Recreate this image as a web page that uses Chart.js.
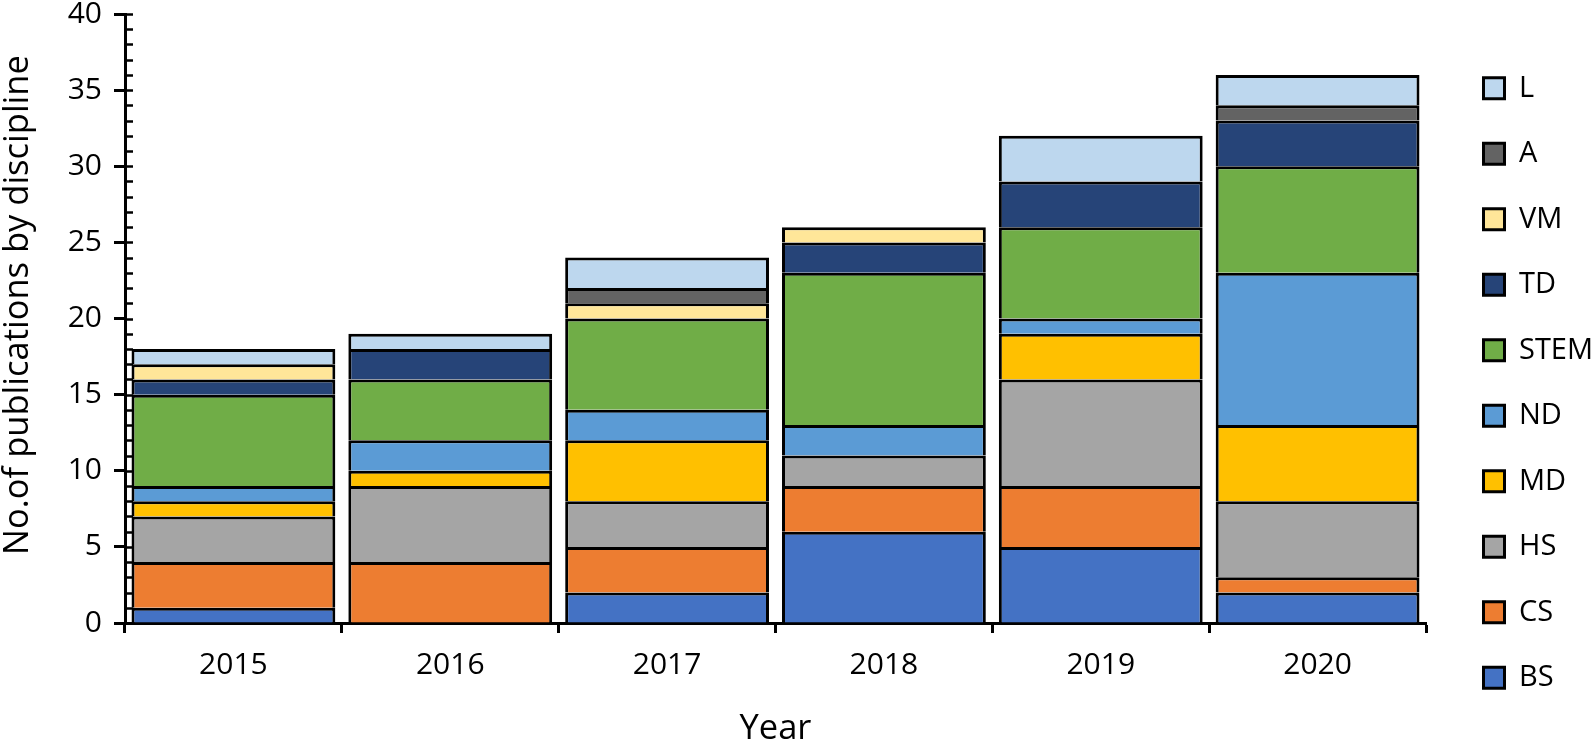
<!DOCTYPE html>
<html>
<head>
<meta charset="utf-8">
<script src="https://cdn.jsdelivr.net/npm/chart.js@4.4.1/dist/chart.umd.min.js"></script>
<style>
html,body{margin:0;padding:0;background:#fff;}
#wrap{width:1592px;height:752px;position:relative;}
</style>
</head>
<body>
<div id="wrap"><canvas id="c" width="1592" height="752"></canvas></div>
<script>
const years = ['2015', '2016', '2017', '2018', '2019', '2020'];
const BS   = [1, 0, 2, 6, 5, 2];
const CS   = [3, 4, 3, 3, 4, 1];
const HS   = [3, 5, 3, 2, 7, 5];
const MD   = [1, 1, 4, 0, 3, 5];
const ND   = [1, 2, 2, 2, 1, 10];
const STEM = [6, 4, 6, 10, 6, 7];
const TD   = [1, 2, 0, 2, 3, 3];
const VM   = [1, 0, 1, 1, 0, 0];
const A    = [0, 0, 1, 0, 0, 1];
const L    = [1, 1, 2, 0, 3, 2];

const seriesNames  = ['BS', 'CS', 'HS', 'MD', 'ND', 'STEM', 'TD', 'VM', 'A', 'L'];
const seriesValues = [BS, CS, HS, MD, ND, STEM, TD, VM, A, L];
const seriesColors = ['#4472C4', '#ED7D31', '#A5A5A5', '#FFC000', '#5B9BD5',
                      '#70AD47', '#264478', '#FFE699', '#636363', '#BDD7EE'];

const yTitle = 'No.of publications by discipline';
const xTitle = 'Year';
const FONT = "'Open Sans', 'Noto Sans', sans-serif";

const minorTicks = {
  id: 'minorTicks',
  afterDraw(chart) {
    const y = chart.scales.y;
    const ctx = chart.ctx;
    const x0 = chart.chartArea.left;
    ctx.save();
    ctx.strokeStyle = '#000';
    ctx.lineWidth = 2.5;
    for (let v = y.min; v <= y.max; v += 1) {
      const py = Math.round(y.getPixelForValue(v)) + 0.5;
      ctx.beginPath();
      ctx.moveTo(x0, py);
      ctx.lineTo(x0 + 8, py);
      ctx.stroke();
    }
    ctx.restore();
  }
};

const datasets = seriesNames.map((name, i) => ({
  label: name,
  data: seriesValues[i],
  backgroundColor: seriesColors[i],
  borderColor: '#000',
  borderWidth: 3,
  borderSkipped: 'start',
  categoryPercentage: 1.0,
  barPercentage: 0.94
}));

new Chart(document.getElementById('c'), {
  type: 'bar',
  data: { labels: years, datasets },
  options: {
    responsive: false,
    animation: false,
    devicePixelRatio: 1,
    layout: { padding: { top: 14, left: 0, right: 0, bottom: 0 } },
    plugins: {
      tooltip: { enabled: false },
      legend: {
        position: 'right',
        reverse: true,
        align: 'center',
        maxWidth: 145,
        labels: {
          boxWidth: 21,
          boxHeight: 21,
          padding: 36.5,
          color: '#000',
          font: { family: FONT, size: 29 }
        }
      }
    },
    scales: {
      x: {
        stacked: true,
        z: 1,
        offset: true,
        grid: { offset: true, drawOnChartArea: false, drawTicks: true, tickLength: 10, tickWidth: 3, tickColor: '#000' },
        border: { display: true, color: '#000', width: 3 },
        ticks: { color: '#000', font: { family: FONT, size: 30 }, padding: 14, maxRotation: 0, autoSkip: false },
        title: { display: true, text: xTitle, color: '#000', font: { family: FONT, size: 34.5 }, padding: { top: 0, bottom: 2 } },
        afterFit(s) { s.height = 129; }
      },
      y: {
        stacked: true,
        z: 1,
        min: 0,
        max: 40,
        ticks: { stepSize: 5, color: '#000', font: { family: FONT, size: 30, lineHeight: 0.9 }, padding: 12 },
        grid: { drawOnChartArea: false, tickLength: 11, tickWidth: 3, tickColor: '#000' },
        border: { display: true, color: '#000', width: 3 },
        title: { display: true, text: '   ' + yTitle, color: '#000', font: { family: FONT, size: 34.5, lineHeight: 0.9 }, padding: { top: 3, bottom: 0 } },
        afterFit(s) { s.width = 125; s.paddingTop = 0; s.paddingBottom = 0; }
      },
      y2: {
        position: 'right',
        display: true,
        grid: { display: false, drawTicks: false },
        ticks: { display: false },
        border: { display: false },
        afterFit(s) { s.width = 21; s.paddingTop = 0; s.paddingBottom = 0; }
      }
    }
  },
  plugins: [minorTicks]
});
</script>
</body>
</html>
